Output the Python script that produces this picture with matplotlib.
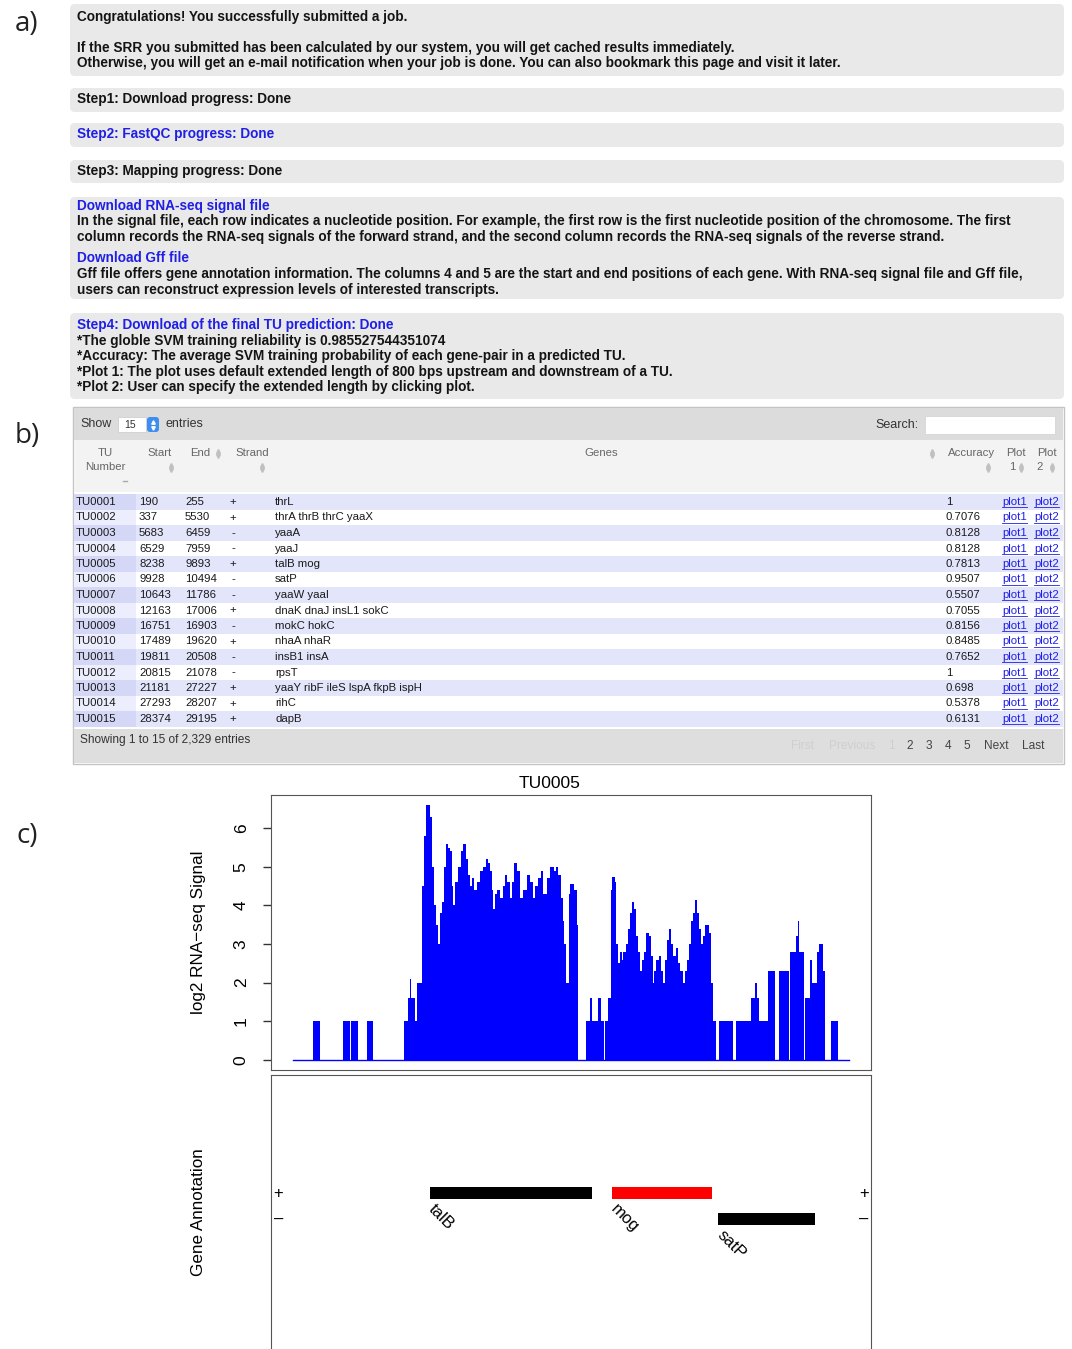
import matplotlib
matplotlib.use("Agg")
import matplotlib.pyplot as plt
from matplotlib.patches import Rectangle, FancyBboxPatch

W, H = 1072, 1349

# ---------------- data ----------------
# a) job status page text
status_lines = [
    "Congratulations! You successfully submitted a job.",
    "If the SRR you submitted has been calculated by our system, you will get cached results immediately.",
    "Otherwise, you will get an e-mail notification when your job is done. You can also bookmark this page and visit it later.",
    "Step1: Download progress: Done",
    "Step2: FastQC progress: Done",
    "Step3: Mapping progress: Done",
    "Download RNA-seq signal file",
    "In the signal file, each row indicates a nucleotide position. For example, the first row is the first nucleotide position of the chromosome. The first",
    "column records the RNA-seq signals of the forward strand, and the second column records the RNA-seq signals of the reverse strand.",
    "Download Gff file",
    "Gff file offers gene annotation information. The columns 4 and 5 are the start and end positions of each gene. With RNA-seq signal file and Gff file,",
    "users can reconstruct expression levels of interested transcripts.",
    "Step4: Download of the final TU prediction: Done",
    "*The globle SVM training reliability is 0.985527544351074",
    "*Accuracy: The average SVM training probability of each gene-pair in a predicted TU.",
    "*Plot 1: The plot uses default extended length of 800 bps upstream and downstream of a TU.",
    "*Plot 2: User can specify the extended length by clicking plot.",
]
status_is_link = [False, False, False, False, True, False, True, False, False,
                  True, False, False, True, False, False, False, False]

# b) TU table
tu_ids = ["TU0001", "TU0002", "TU0003", "TU0004", "TU0005", "TU0006", "TU0007", "TU0008",
          "TU0009", "TU0010", "TU0011", "TU0012", "TU0013", "TU0014", "TU0015"]
tu_start = [190, 337, 5683, 6529, 8238, 9928, 10643, 12163, 16751, 17489, 19811, 20815,
            21181, 27293, 28374]
tu_end = [255, 5530, 6459, 7959, 9893, 10494, 11786, 17006, 16903, 19620, 20508, 21078,
          27227, 28207, 29195]
tu_strand = ["+", "+", "-", "-", "+", "-", "-", "+", "-", "+", "-", "-", "+", "+", "+"]
tu_genes = ["thrL", "thrA thrB thrC yaaX", "yaaA", "yaaJ", "talB mog", "satP", "yaaW yaaI",
            "dnaK dnaJ insL1 sokC", "mokC hokC", "nhaA nhaR", "insB1 insA", "rpsT",
            "yaaY ribF ileS lspA fkpB ispH", "rihC", "dapB"]
tu_accuracy = ["1", "0.7076", "0.8128", "0.8128", "0.7813", "0.9507", "0.5507", "0.7055",
               "0.8156", "0.8485", "0.7652", "1", "0.698", "0.5378", "0.6131"]
total_entries = "2,329"

# c) TU0005 signal (step starts in bp, log2 signal)
sig_pos = [7438, 7555, 7596, 7731, 7772, 7778, 7819, 7872, 7907, 8089, 8112, 8124, 8130,
           8154, 8165, 8195, 8206, 8218, 8241, 8253, 8265, 8277, 8288, 8300, 8312, 8324,
           8335, 8347, 8359, 8371, 8376, 8388, 8406, 8423, 8435, 8453, 8464, 8476, 8488,
           8500, 8517, 8535, 8552, 8570, 8582, 8593, 8605, 8611, 8623, 8634, 8652, 8670,
           8681, 8693, 8711, 8722, 8734, 8752, 8769, 8787, 8810, 8828, 8840, 8857, 8875,
           8887, 8904, 8922, 8945, 8963, 8980, 8992, 9004, 9016, 9022, 9039, 9051, 9057,
           9086, 9098, 9104, 9151, 9174, 9186, 9221, 9239, 9256, 9262, 9280, 9297, 9303,
           9321, 9327, 9338, 9350, 9362, 9373, 9385, 9397, 9409, 9420, 9432, 9444, 9456,
           9467, 9479, 9491, 9503, 9520, 9532, 9544, 9549, 9561, 9579, 9590, 9602, 9614,
           9626, 9637, 9649, 9661, 9678, 9690, 9702, 9720, 9731, 9743, 9755, 9766, 9778,
           9790, 9802, 9813, 9825, 9837, 9849, 9872, 9884, 9895, 9913, 9931, 10013, 10030,
           10118, 10142, 10154, 10165, 10218, 10259, 10283, 10341, 10347, 10382, 10394,
           10400, 10429, 10435, 10464, 10476, 10505, 10517, 10541, 10552, 10587, 10629,
           10693]
sig_val = [0, 1, 0, 1, 0, 1, 0, 1, 0, 1.0, 1.6, 2.1, 1.6,
           1.0, 2.0, 4.5, 5.8, 6.6, 6.3, 5.0, 4.0, 3.5, 3.0, 3.8, 4.1, 5.0,
           5.6, 5.5, 5.4, 4.5, 4.0, 4.6, 5.0, 5.4, 5.6, 5.2, 4.8, 4.5, 4.7,
           4.4, 4.6, 4.9, 5.0, 5.2, 5.1, 4.9, 4.4, 3.9, 4.3, 4.4, 4.2, 4.5,
           4.8, 4.6, 4.2, 4.6, 5.1, 4.9, 4.2, 4.4, 4.8, 4.6, 4.2, 4.5, 4.7,
           4.9, 4.3, 4.7, 5.0, 4.9, 5.0, 4.8, 4.2, 3.6, 3.0, 2.0, 4.3, 4.55,
           4.4, 3.5, 0, 1.0, 1.6, 1.0, 1.6, 1.0, 0, 1.0, 1.6, 4.4, 4.75,
           4.6, 3.0, 2.5, 2.8, 2.6, 2.8, 3.0, 3.4, 3.8, 4.1, 3.9, 3.2, 2.8,
           2.3, 2.6, 2.8, 3.3, 3.2, 2.7, 2.0, 2.3, 2.6, 2.7, 2.3, 2.0, 2.6,
           3.1, 3.4, 3.0, 2.7, 2.9, 2.5, 2.3, 2.0, 2.3, 2.6, 3.0, 3.6, 3.8,
           4.15, 3.8, 3.4, 3.0, 3.2, 3.5, 3.3, 2.0, 1.0, 0, 1.0, 0, 1.0,
           1.6, 2.0, 1.6, 1.0, 2.3, 0, 2.3, 0, 2.8, 3.2, 3.6,
           2.8, 0, 1.6, 2.6, 2.0, 2.8, 3.0, 2.3, 0, 1.0, 0,
           0]

gene_names = ["talB", "mog", "satP"]
gene_start = [8238, 9306, 9928]
gene_end = [9191, 9893, 10494]
gene_strand = ["+", "+", "-"]

# ---------------- figure ----------------
fig = plt.figure(figsize=(W / 100, H / 100), dpi=100)
page = fig.add_axes([0, 0, 1, 1], zorder=0)
page.set_xlim(0, W)
page.set_ylim(H, 0)
page.axis("off")

SANS = ["Liberation Sans", "DejaVu Sans"]
LINK = "#1f1fe6"

# panel letters
for lab, y in zip(["a)", "b)", "c)"], [24, 436, 836]):
    page.text(27, y, lab, fontsize=20, family=["Open Sans", "DejaVu Sans"],
              ha="center", va="center", color="#222222")

# ---- a) grey boxes and text ----
for y0, y1 in [(4, 76), (88, 112), (123, 147), (160, 183), (197, 299), (313, 399)]:
    page.add_patch(FancyBboxPatch((70, y0), 994, y1 - y0,
                                  boxstyle="round,pad=0,rounding_size=5",
                                  fc="#e9e9e9", ec="none"))
line_y = [17, 48, 63, 99, 134, 171, 206, 221, 237, 258, 274, 290, 325, 341, 356, 372, 387]
for s, y, link in zip(status_lines, line_y, status_is_link):
    page.text(77, y, s, fontsize=9.8, fontweight="bold", family=SANS, va="center",
              color=LINK if link else "#141414")

# ---- b) table ----
page.add_patch(Rectangle((73, 407), 991, 357, fc="white", ec="#c4c4c4", lw=1))
page.add_patch(Rectangle((74, 408), 989, 32, fc="#dcdcdc", ec="none"))
page.add_patch(Rectangle((74, 729), 989, 34, fc="#dedede", ec="none"))
page.add_patch(Rectangle((74, 440), 989, 52, fc="#f3f3f3", ec="none"))

TF = dict(family=SANS, va="center")
page.text(80, 424, "Show", fontsize=9, color="#333333", **TF)
page.add_patch(Rectangle((118, 417), 28, 15, fc="white", ec="#d0d0d0", lw=0.6))
page.text(124, 424.5, "15", fontsize=7.5, color="#333333", **TF)
page.add_patch(FancyBboxPatch((147, 417), 12, 15, boxstyle="round,pad=0,rounding_size=3",
                              fc="#3d8ef0", ec="none"))
page.plot([153], [421.5], marker="^", ms=2.5, color="white")
page.plot([153], [427.5], marker="v", ms=2.5, color="white")
page.text(166, 424, "entries", fontsize=9, color="#333333", **TF)
page.text(875, 425, "Search:", fontsize=9, color="#333333", **TF)
page.add_patch(Rectangle((925, 416), 130, 18, fc="white", ec="#d6d6d6", lw=0.6))


def sort_icon(x, y):
    page.plot([x], [y - 2.5], marker="^", ms=2.8, color="#c0c0c0")
    page.plot([x], [y + 2.5], marker="v", ms=2.8, color="#c0c0c0")


HC = "#666666"
HF = dict(family=SANS, va="center", fontsize=8.2, color=HC)
page.text(105, 453, "TU", ha="center", **HF)
page.text(105, 467, "Number", ha="center", **HF)
page.plot([122.5, 126.5], [481, 481], color="#aaaaaa", lw=1)
page.text(160, 453, "Start", ha="center", **HF)
sort_icon(171, 467)
page.text(200, 453, "End", ha="center", **HF)
sort_icon(218, 453)
page.text(252, 453, "Strand", ha="center", **HF)
sort_icon(262, 467)
page.text(601, 453, "Genes", ha="center", **HF)
sort_icon(932, 453)
page.text(972, 453, "Accuracy", ha="center", **HF)
sort_icon(988, 467)
page.text(1016, 453, "Plot", ha="center", **HF)
page.text(1012, 467, "1", ha="center", **HF)
sort_icon(1021, 467)
page.text(1047, 453, "Plot", ha="center", **HF)
page.text(1040, 467, "2", ha="center", **HF)
sort_icon(1052, 467)

row_h = 15.5
row0 = 502
RF = dict(family=SANS, va="center", fontsize=8.2, color="#1a1a1a")
for i in range(len(tu_ids)):
    y = row0 + i * row_h
    odd = i % 2 == 0
    page.add_patch(Rectangle((74, y - row_h / 2), 989, row_h,
                             fc="#e3e5fb" if odd else "white", ec="none"))
    page.add_patch(Rectangle((74, y - row_h / 2), 62, row_h,
                             fc="#d4d7f6" if odd else "#eceefd", ec="none"))
    page.text(76, y, tu_ids[i], **RF)
    page.text(139, y, str(tu_start[i]), **RF)
    page.text(185, y, str(tu_end[i]), **RF)
    page.text(233, y, tu_strand[i], ha="center", **RF)
    page.text(275, y, tu_genes[i], **RF)
    page.text(946, y, tu_accuracy[i], **RF)
    for lx, lab in [(1002, "plot1"), (1034, "plot2")]:
        page.text(lx, y, lab, family=SANS, va="center", fontsize=8.2, color=LINK)
        page.plot([lx, lx + 25], [y + 5, y + 5], color=LINK, lw=0.6)

page.text(80, 740, f"Showing 1 to {len(tu_ids)} of {total_entries} entries", fontsize=8.6,
          color="#333333", **TF)
for lab, x, faded in [("First", 803, True), ("Previous", 852, True), ("1", 891, True),
                      ("2", 910, False), ("3", 929, False), ("4", 948, False),
                      ("5", 967, False), ("Next", 996, False), ("Last", 1033, False)]:
    page.text(x, 746, lab, fontsize=8.6, ha="center", color="#cfcfcf" if faded else "#444444",
              **TF)

# ---- c) TU plot ----
ax1 = fig.add_axes([271 / W, 1 - 1070 / H, 600 / W, 275 / H], zorder=2)
ax1.fill_between(sig_pos, sig_val, step="post", color="#0000ff", lw=0)
ax1.plot([sig_pos[0], sig_pos[-1]], [0, 0], color="#0000ff", lw=1)
pad_x = (sig_pos[-1] - sig_pos[0]) * 0.04
ax1.set_xlim(sig_pos[0] - pad_x, sig_pos[-1] + pad_x)
pad_y = max(sig_val) * 0.04
ax1.set_ylim(-pad_y, max(sig_val) + pad_y)
ax1.set_xticks([])
ax1.set_yticks(range(0, 7))
ax1.tick_params(axis="y", length=6, width=1, pad=10, labelsize=12.5, color="#333333",
                labelrotation=90)
for lab in ax1.get_yticklabels():
    lab.set_va("center")
    lab.set_family(SANS)
for sp in ax1.spines.values():
    sp.set_color("#555555")
ax1.set_title("TU0005", fontsize=12.5, family=SANS, pad=5, x=(550 - 271) / 600)
ax1.set_ylabel("log2 RNA\u2212seq Signal", fontsize=12.3, family=SANS)
ax1.yaxis.set_label_coords((206 - 271) / 600, 0.5)

ax2 = fig.add_axes([271 / W, 0, 600 / W, (1349 - 1075) / H], zorder=2)
ax2.set_xlim(ax1.get_xlim())
ax2.set_ylim(-5.5, 5.04)
ax2.spines["bottom"].set_visible(False)
for sp in ax2.spines.values():
    sp.set_color("#555555")
ax2.set_xticks([])
ax2.set_yticks([])
bar_h = 0.46
for name, s, e, st in zip(gene_names, gene_start, gene_end, gene_strand):
    y = 0.5 if st == "+" else -0.5
    ax2.add_patch(Rectangle((s, y - bar_h / 2), e - s, bar_h, lw=0,
                            fc="red" if name == "mog" else "black"))
    ax2.text(s + 40, y - bar_h / 2 - 0.1, name, rotation=-45, rotation_mode="anchor",
             ha="left", va="top", fontsize=12, family=SANS)
for xf in (0.012, 0.988):
    ax2.text(xf, 0.5, "+", transform=ax2.get_yaxis_transform(), ha="center", va="center",
             fontsize=12, family=SANS)
    ax2.text(xf, -0.5, "\u2013", transform=ax2.get_yaxis_transform(), ha="center",
             va="center", fontsize=12, family=SANS)
ax2.set_ylabel("Gene Annotation", fontsize=12.3, family=SANS)
ax2.yaxis.set_label_coords((206 - 271) / 600, 0.5)

fig.savefig("out.png", dpi=100)
